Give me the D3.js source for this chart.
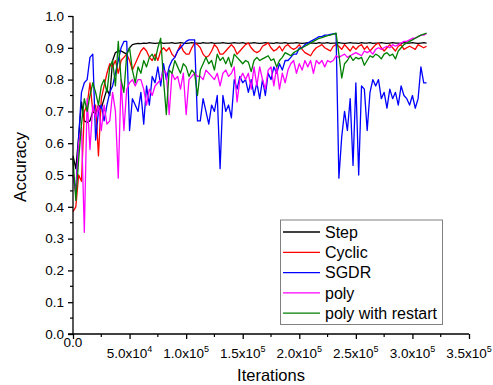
<!DOCTYPE html>
<html>
<head>
<meta charset="utf-8">
<script src="https://cdn.jsdelivr.net/npm/d3@7/dist/d3.min.js"></script>
<style>
  html, body { margin: 0; padding: 0; background: #fff; }
  svg { display: block; font-family: "Liberation Sans", Arial, sans-serif; }
</style>
</head>
<body>
<svg id="chart" width="493" height="385"></svg>
<script>
// ---- data ----
const iterations = [0,2500,5000,7500,10000,12500,15000,17500,20000,22500,25000,27500,30000,32500,35000,37500,40000,42500,45000,47500,
50000,52500,55000,57500,60000,62500,65000,67500,70000,72500,75000,77500,80000,82500,85000,87500,90000,92500,95000,97500,
100000,102500,105000,107500,110000,112500,115000,117500,120000,122500,125000,127500,130000,132500,135000,137500,140000,142500,145000,147500,
150000,152500,155000,157500,160000,162500,165000,167500,170000,172500,175000,177500,180000,182500,185000,187500,190000,192500,195000,197500,
200000,202500,205000,207500,210000,212500,215000,217500,220000,222500,225000,227500,230000,232500,235000,237500,240000,242500,245000,247500,
250000,252500,255000,257500,260000,262500,265000,267500,270000,272500,275000,277500,280000,282500,285000,287500,290000,292500,295000,297500,
300000,302500,305000,307500,310000,312500];

const seriesNames = ["Step", "Cyclic", "SGDR", "poly", "poly with restart"];
const seriesColors = ["#000000", "#ff0000", "#0000ff", "#ff00ff", "#008000"];

const stepAcc = [0.56,0.52,0.62,0.73,0.67,0.665,0.67,0.70,0.69,0.72,
0.71,0.74,0.77,0.75,0.86,0.885,0.89,0.89,0.885,0.88,
0.90,0.91,0.912,0.914,0.913,0.915,0.914,0.916,0.915,0.914,
0.915,0.916,0.914,0.915,0.915,0.916,0.914,0.915,0.916,0.915,
0.914,0.915,0.916,0.915,0.915,0.914,0.916,0.915,0.915,0.916,
0.914,0.915,0.915,0.916,0.915,0.914,0.915,0.916,0.915,0.915,
0.916,0.914,0.915,0.915,0.916,0.915,0.914,0.915,0.916,0.915,
0.915,0.914,0.916,0.915,0.915,0.916,0.914,0.915,0.915,0.916,
0.915,0.914,0.915,0.916,0.915,0.915,0.914,0.916,0.915,0.915,
0.916,0.914,0.915,0.915,0.916,0.915,0.914,0.915,0.916,0.915,
0.915,0.914,0.916,0.915,0.915,0.916,0.914,0.915,0.915,0.916,
0.915,0.914,0.915,0.916,0.915,0.915,0.914,0.916,0.915,0.915,
0.916,0.915,0.914,0.915,0.916,0.915];

const cyclicAcc = [0.385,0.40,0.50,0.48,0.70,0.72,0.79,0.70,0.72,0.56,
0.74,0.78,0.82,0.85,0.84,0.86,0.82,0.86,0.87,0.88,
0.86,0.83,0.85,0.87,0.89,0.90,0.89,0.87,0.86,0.88,
0.86,0.89,0.90,0.89,0.90,0.88,0.87,0.89,0.91,0.89,
0.88,0.88,0.90,0.915,0.91,0.90,0.88,0.87,0.875,0.89,
0.91,0.90,0.88,0.88,0.89,0.90,0.91,0.90,0.88,0.89,
0.90,0.91,0.915,0.90,0.89,0.885,0.89,0.905,0.91,0.915,
0.90,0.89,0.895,0.905,0.89,0.905,0.91,0.90,0.895,0.90,
0.91,0.895,0.885,0.88,0.875,0.89,0.90,0.905,0.91,0.90,
0.895,0.89,0.905,0.91,0.905,0.895,0.91,0.90,0.89,0.905,
0.895,0.905,0.91,0.895,0.905,0.89,0.90,0.91,0.915,0.90,
0.89,0.90,0.91,0.90,0.89,0.905,0.91,0.895,0.90,0.905,
0.90,0.895,0.91,0.905,0.90,0.905];

const sgdrAcc = [0.50,0.45,0.62,0.76,0.79,0.80,0.87,0.88,0.61,0.70,
0.72,0.67,0.72,0.76,0.78,0.82,0.86,0.90,0.92,0.92,
0.64,0.74,0.72,0.70,0.76,0.66,0.78,0.72,0.81,0.79,
0.84,0.78,0.85,0.80,0.84,0.86,0.87,0.89,0.90,0.91,
0.92,0.925,0.925,0.925,0.67,0.67,0.74,0.70,0.66,0.72,
0.70,0.75,0.52,0.75,0.70,0.72,0.68,0.80,0.77,0.81,
0.79,0.80,0.76,0.80,0.75,0.79,0.74,0.80,0.75,0.82,
0.80,0.84,0.82,0.85,0.83,0.86,0.86,0.87,0.88,0.88,
0.90,0.90,0.91,0.915,0.92,0.925,0.93,0.935,0.935,0.94,
0.94,0.942,0.944,0.945,0.49,0.62,0.70,0.64,0.74,0.53,
0.79,0.50,0.78,0.77,0.64,0.76,0.80,0.78,0.80,0.74,
0.76,0.71,0.77,0.74,0.76,0.72,0.78,0.75,0.74,0.72,
0.75,0.71,0.74,0.84,0.79,0.79];

const polyAcc = [0.50,0.44,0.60,0.65,0.32,0.74,0.58,0.72,0.68,0.72,
0.64,0.72,0.66,0.67,0.76,0.70,0.49,0.80,0.64,0.77,
0.79,0.80,0.78,0.80,0.80,0.77,0.72,0.77,0.75,0.78,
0.79,0.80,0.83,0.82,0.69,0.82,0.80,0.81,0.77,0.82,
0.69,0.80,0.81,0.82,0.81,0.81,0.80,0.83,0.82,0.81,
0.80,0.82,0.78,0.82,0.83,0.81,0.82,0.84,0.73,0.80,
0.82,0.80,0.82,0.77,0.84,0.78,0.84,0.80,0.77,0.83,
0.84,0.78,0.84,0.77,0.82,0.79,0.83,0.85,0.86,0.82,
0.85,0.83,0.86,0.84,0.86,0.82,0.86,0.85,0.86,0.84,
0.86,0.855,0.86,0.875,0.87,0.875,0.88,0.87,0.875,0.88,
0.885,0.88,0.875,0.89,0.885,0.89,0.88,0.895,0.90,0.895,
0.90,0.905,0.90,0.91,0.905,0.91,0.915,0.92,0.92,0.925,
0.93,0.93,0.935,0.94,0.94,0.945];

const polyRestartAcc = [0.55,0.42,0.55,0.66,0.74,0.70,0.75,0.79,0.76,0.72,
0.78,0.80,0.76,0.84,0.86,0.78,0.92,0.80,0.76,0.88,
0.90,0.83,0.79,0.84,0.82,0.86,0.84,0.87,0.88,0.86,
0.90,0.93,0.80,0.69,0.83,0.82,0.86,0.84,0.82,0.85,
0.84,0.81,0.83,0.82,0.75,0.83,0.85,0.87,0.85,0.86,
0.83,0.88,0.86,0.87,0.85,0.87,0.84,0.88,0.87,0.86,
0.85,0.86,0.855,0.825,0.86,0.87,0.86,0.865,0.87,0.875,
0.86,0.865,0.84,0.86,0.87,0.885,0.88,0.875,0.885,0.89,
0.895,0.90,0.905,0.91,0.915,0.92,0.925,0.93,0.932,0.935,
0.938,0.94,0.943,0.946,0.88,0.805,0.85,0.86,0.875,0.86,
0.87,0.865,0.87,0.845,0.86,0.875,0.87,0.88,0.875,0.865,
0.88,0.885,0.875,0.88,0.865,0.89,0.90,0.91,0.915,0.92,
0.925,0.93,0.935,0.94,0.943,0.946];

const seriesValues = [stepAcc, cyclicAcc, sgdrAcc, polyAcc, polyRestartAcc];

const xTickValues = [0, 50000, 100000, 150000, 200000, 250000, 300000, 350000];
const xTickMantissa = ["0.0", "5.0", "1.0", "1.5", "2.0", "2.5", "3.0", "3.5"];
const xTickExponent = [null, "4", "5", "5", "5", "5", "5", "5"];
const yTickValues = [0, 0.1, 0.2, 0.3, 0.4, 0.5, 0.6, 0.7, 0.8, 0.9, 1.0];

const xLabel = "Iterations";
const yLabel = "Accuracy";

// ---- layout ----
(function () {
const svg = d3.select("#chart");
const mLeft = 73, mRight = 469, mTop = 16, mBottom = 334;

const x = d3.scaleLinear().domain([0, 350000]).range([mLeft, mRight]);
const y = d3.scaleLinear().domain([0, 1]).range([mBottom, mTop]);

// series lines
const line = d3.line()
  .x((d, i) => x(iterations[i]))
  .y(d => y(d));

const plot = svg.append("g");
seriesValues.forEach((vals, k) => {
  plot.append("path")
    .datum(vals)
    .attr("fill", "none")
    .attr("stroke", seriesColors[k])
    .attr("stroke-width", 1.3)
    .attr("stroke-linejoin", "round")
    .attr("d", line);
});

const fontSize = 13.5;
// y axis
const yAxisG = svg.append("g").attr("transform", `translate(${mLeft},0)`);
yAxisG.call(d3.axisLeft(y).tickValues(yTickValues).tickSize(5).tickFormat(d3.format(".1f")))
  .call(g => g.select(".domain").attr("stroke", "#000").attr("stroke-width", 1.3).attr("d", `M-5,${mBottom}H0V${mTop}`))
  .call(g => g.selectAll(".tick line").attr("stroke", "#000").attr("stroke-width", 1.3))
  .call(g => g.selectAll(".tick text").attr("font-size", fontSize).attr("fill", "#000").attr("x", -9)
      .attr("font-family", "'Liberation Sans', Arial, sans-serif"));
const yMinor = yTickValues.slice(0, -1).map(v => v + 0.05);
yAxisG.selectAll(".minor").data(yMinor).enter().append("line")
  .attr("x1", -3).attr("x2", 0)
  .attr("y1", d => y(d)).attr("y2", d => y(d))
  .attr("stroke", "#000").attr("stroke-width", 1.2);

// x axis
const xAxisG = svg.append("g").attr("transform", `translate(0,${mBottom})`);
xAxisG.call(d3.axisBottom(x).tickValues(xTickValues).tickSize(5).tickFormat(""))
  .call(g => g.select(".domain").attr("stroke", "#000").attr("stroke-width", 1.3).attr("d", `M${mLeft},0H${mRight}`))
  .call(g => g.selectAll(".tick line").attr("stroke", "#000").attr("stroke-width", 1.3));
const xMinor = xTickValues.slice(0, -1).map(v => v + 25000);
xAxisG.selectAll(".minor").data(xMinor).enter().append("line")
  .attr("x1", d => x(d)).attr("x2", d => x(d))
  .attr("y1", 0).attr("y2", 3)
  .attr("stroke", "#000").attr("stroke-width", 1.2);

xTickValues.forEach((v, i) => {
  const t = svg.append("text")
    .attr("x", x(v))
    .attr("y", xTickExponent[i] ? 358 : 347)
    .attr("text-anchor", "middle")
    .attr("font-size", fontSize)
    .attr("fill", "#000");
  if (xTickExponent[i]) {
    t.append("tspan").text(xTickMantissa[i] + "x10");
    t.append("tspan").attr("font-size", 9).attr("dy", -6).text(xTickExponent[i]);
  } else {
    t.text(xTickMantissa[i]);
  }
});

svg.append("text")
  .attr("x", (mLeft + mRight) / 2)
  .attr("y", 381)
  .attr("text-anchor", "middle")
  .attr("font-size", 16.5)
  .attr("fill", "#000")
  .text(xLabel);

svg.append("text")
  .attr("transform", `translate(26,167) rotate(-90)`)
  .attr("text-anchor", "middle")
  .attr("font-size", 17)
  .attr("fill", "#000")
  .text(yLabel);

// legend
const lg = svg.append("g");
lg.append("rect")
  .attr("x", 280.5).attr("y", 220)
  .attr("width", 162).attr("height", 104.5)
  .attr("fill", "#fff")
  .attr("stroke", "#808080")
  .attr("stroke-width", 1);
seriesNames.forEach((name, k) => {
  const cy = 232 + k * 20.3;
  lg.append("line")
    .attr("x1", 283).attr("x2", 320)
    .attr("y1", cy).attr("y2", cy)
    .attr("stroke", seriesColors[k])
    .attr("stroke-width", 1.3);
  lg.append("text")
    .attr("x", 325).attr("y", cy + 5.8)
    .attr("font-size", 16)
    .attr("fill", "#000")
    .text(name);
});
})();
</script>
</body>
</html>
